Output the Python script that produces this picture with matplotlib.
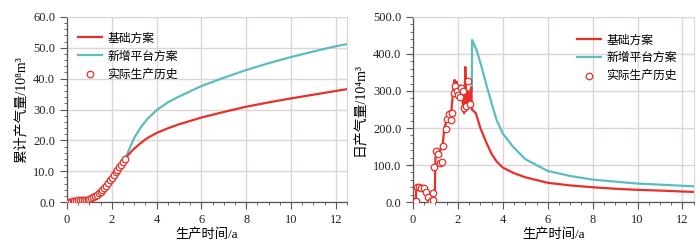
import numpy as np
import matplotlib.pyplot as plt
from matplotlib.ticker import MultipleLocator, FormatStrFormatter

plt.rcParams["font.family"] = ["Liberation Serif", "Noto Sans CJK SC", "DejaVu Sans"]
plt.rcParams["axes.unicode_minus"] = False

# 累计产气量 —— 实际生产历史
hist_t = [0.0, 0.08, 0.17, 0.25, 0.33, 0.42, 0.5, 0.58, 0.67, 0.75, 0.83, 0.92,
          1.0, 1.08, 1.17, 1.25, 1.33, 1.42, 1.5, 1.58, 1.67, 1.75, 1.83, 1.92,
          2.0, 2.08, 2.17, 2.25, 2.33, 2.42, 2.5, 2.58]
hist_cum = [0.0, 0.05, 0.15, 0.25, 0.35, 0.45, 0.55, 0.65, 0.7, 0.75, 0.8, 0.82,
            0.9, 1.2, 1.5, 1.9, 2.3, 2.8, 3.3, 3.9, 4.6, 5.3, 6.1, 7.0,
            7.9, 8.8, 9.7, 10.5, 11.3, 12.1, 13.0, 13.8]

# 累计产气量 —— 预测
pred_t = [2.62, 2.8, 3.0, 3.3, 3.6, 4.0, 4.5, 5.0, 6.0, 7.0, 8.0, 9.0, 10.0, 11.0, 12.0, 12.5]
base_cum = [14.3, 15.8, 17.3, 19.2, 20.8, 22.4, 23.9, 25.2, 27.4, 29.2, 30.9, 32.3, 33.6, 34.8, 36.0, 36.6]
new_cum = [14.3, 17.5, 20.8, 24.3, 27.0, 29.8, 32.3, 34.2, 37.6, 40.3, 42.8, 45.0, 47.0, 48.8, 50.5, 51.2]

# 日产气量 —— 基础方案（历史段）
rate_hist_t = [0.05, 0.12, 0.15, 0.3, 0.45, 0.55, 0.62, 0.68, 0.75, 0.85, 0.9, 0.97,
               1.0, 1.05, 1.1, 1.15, 1.2, 1.25, 1.32, 1.4, 1.47, 1.55, 1.62, 1.7,
               1.78, 1.85, 1.9, 1.95, 2.0, 2.08, 2.13, 2.18, 2.23, 2.28, 2.33, 2.38,
               2.44, 2.5, 2.55, 2.6]
rate_hist = [0, 0, 40, 40, 38, 40, 30, 10, 0, 0, 20, 25,
             120, 140, 130, 140, 135, 150, 155, 200, 215, 240, 245, 240,
             295, 330, 310, 325, 290, 300, 315, 300, 250, 240, 365, 260,
             300, 270, 300, 310]

# 日产气量 —— 预测
rate_pred_t = [2.62, 2.8, 3.0, 3.27, 3.5, 3.72, 4.0, 4.5, 5.0, 6.0, 7.0, 8.0, 9.0, 10.0, 11.0, 12.0, 12.5]
base_rate = [250, 240, 200, 160, 130, 110, 93, 78, 67, 52, 45, 40, 36, 33, 31, 28.5, 27.5]
new_rate_t = [2.62, 2.63, 2.83, 3.05, 3.27, 3.5, 3.72, 4.0, 4.46, 5.0, 6.0, 7.0, 8.0, 10.0, 12.5]
new_rate = [300, 438, 411, 366, 316, 267, 222, 185, 149, 116, 84, 70.5, 60.6, 50, 42.5]

# 日产气量 —— 实际生产历史
obs_t = [0.13, 0.17, 0.25, 0.35, 0.5, 0.58, 0.65, 0.78, 0.88, 0.9, 0.93, 1.02, 1.1,
         1.22, 1.28, 1.35, 1.45, 1.52, 1.6, 1.67, 1.74, 1.82, 1.88, 1.95, 2.02,
         2.08, 2.15, 2.22, 2.27, 2.38, 2.45, 2.52]
obs_rate = [3, 40, 41, 38, 39, 28, 15, 3, 5, 25, 95, 138, 131,
            106, 108, 152, 197, 224, 238, 223, 240, 295, 313, 300, 290,
            285, 307, 300, 253, 260, 326, 266]

red = "#e8302a"
cyan = "#5cbcbf"
grid_c = "#ddd4d4"

fig = plt.figure(figsize=(7, 2.42), dpi=100)
ax1 = fig.add_axes([0.0957, 0.165, 0.4, 0.765])
ax2 = fig.add_axes([0.590, 0.165, 0.401, 0.765])


def style_axes(ax, ymax, ymaj, ymin):
    ax.set_xlim(0, 12.5)
    ax.set_ylim(0, ymax)
    ax.xaxis.set_major_locator(MultipleLocator(2))
    ax.xaxis.set_minor_locator(MultipleLocator(0.5))
    ax.yaxis.set_major_locator(MultipleLocator(ymaj))
    ax.yaxis.set_minor_locator(MultipleLocator(ymin))
    ax.yaxis.set_major_formatter(FormatStrFormatter("%.1f"))
    ax.grid(True, which="major", color=grid_c, lw=1.0)
    ax.set_axisbelow(True)
    for s in ["top", "right"]:
        ax.spines[s].set_color(grid_c)
    for s in ["left", "bottom"]:
        ax.spines[s].set_color("#555555")
        ax.spines[s].set_linewidth(0.9)
    ax.tick_params(which="both", direction="out", colors="#555555", labelcolor="#222222",
                   labelsize=9, top=False, right=False)
    ax.tick_params(which="major", length=5)
    ax.tick_params(which="minor", length=2.5)
    ax.set_xlabel("生产时间/a", fontsize=9.5, labelpad=1.5)


leg_kw = dict(frameon=False, fontsize=8.5, handlelength=2.0, handletextpad=0.5,
              labelspacing=0.5, borderaxespad=0.3)

# 左图：累计产气量
style_axes(ax1, 60, 10, 2)
ax1.plot(hist_t + pred_t, hist_cum + base_cum, color=red, lw=1.6, label="基础方案", zorder=3)
ax1.plot(pred_t, new_cum, color=cyan, lw=1.6, label="新增平台方案", zorder=2)
ax1.scatter(hist_t, hist_cum, s=22, facecolors="white", edgecolors=red, linewidths=0.9,
            label="实际生产历史", zorder=4)
ax1.set_ylabel("累计产气量/10⁸m³", fontsize=10, labelpad=4)
ax1.legend(loc="upper left", bbox_to_anchor=(0.01, 0.96), **leg_kw)

# 右图：日产气量
style_axes(ax2, 500, 100, 20)
ax2.plot(rate_hist_t + rate_pred_t, rate_hist + base_rate, color=red, lw=1.6, label="基础方案", zorder=3)
ax2.plot(new_rate_t, new_rate, color=cyan, lw=1.6, label="新增平台方案", zorder=2)
ax2.scatter(obs_t, obs_rate, s=22, facecolors="white", edgecolors=red, linewidths=0.9,
            label="实际生产历史", zorder=4)
ax2.set_ylabel("日产气量/10⁴m³", fontsize=10, labelpad=4)
ax2.legend(loc="upper right", bbox_to_anchor=(0.97, 0.95), **leg_kw)

fig.savefig("out.png", dpi=100)
